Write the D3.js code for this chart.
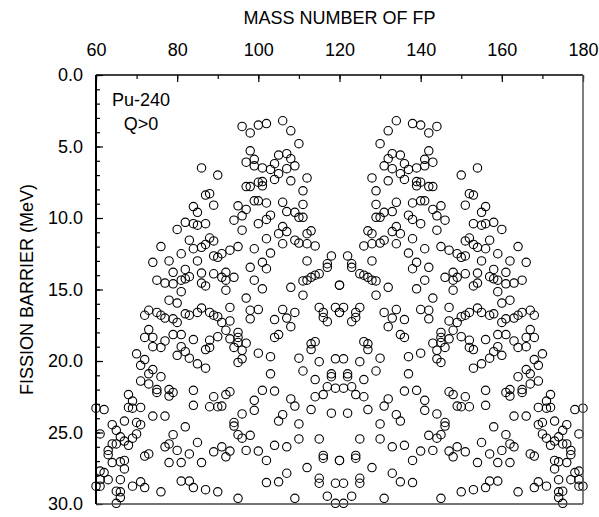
<!DOCTYPE html>
<html>
<head>
<meta charset="utf-8">
<script src="https://cdn.jsdelivr.net/npm/d3@7"></script>
<style>
  body { margin: 0; background: #fff; }
  svg { display: block; font-family: "Liberation Sans", Arial, sans-serif; }
</style>
</head>
<body>
<script>
// light fragment mass and fission barrier (MeV) for Pu-240 splits with Q>0,
// read off the left half of the picture; each split is drawn for both fragments
const lightMass = [
  86, 90, 88, 87, 89, 84, 85, 82, 84, 85, 87, 80, 83, 88, 89, 87,
  96, 98, 100, 102, 106, 108, 110,
  98, 97, 99, 99, 101, 103, 104, 105, 107, 108, 109, 107, 105, 104, 108, 112, 111, 97, 98, 100, 101, 101,
  95, 97, 99, 100, 102, 106, 111, 107, 109, 110, 111, 103, 102, 100, 96, 94, 96, 106, 107, 105, 112, 113,
  84, 86, 76, 81, 74, 78, 85, 89, 79, 82, 86, 89,
  75, 77, 79, 81, 82, 83, 86, 87, 81, 78, 80,
  73, 72, 75, 76, 77, 79, 80, 82, 83, 85, 86, 88, 89,
  73, 72, 74, 77, 79, 81, 84, 88, 87, 74, 76, 81, 80, 82, 83, 85, 87, 70, 72, 71, 74, 76,
  73, 71, 73, 75, 75, 78, 79, 78, 84, 68, 69, 68, 69, 71, 60, 62, 84, 89, 88,
  74, 77, 64, 65, 67, 70, 71, 82, 61, 66, 70, 79, 69, 67, 68, 64, 65, 63, 63, 77, 78, 80, 83, 85, 89, 72, 73,
  64, 66, 67, 67, 78, 81, 86, 61, 62, 63, 61, 60, 61, 66, 65, 66, 66, 65, 69, 71, 72, 76, 81, 83, 84, 87,
  102, 106, 109, 110, 112, 114,
  91, 90, 93, 95, 99, 103, 101, 102, 98, 112, 118, 117, 117, 115, 114, 113, 112, 111,
  91, 92, 92, 94, 92, 99, 101, 108, 111, 120, 97, 93, 98, 100, 98, 106, 109, 107, 104, 108,
  115, 116, 116, 117, 119, 120,
  90, 91, 93, 92, 93, 95, 95, 95, 90, 88, 94, 96, 97, 96, 95, 100, 103, 104, 105, 110, 113, 114, 113, 115, 119,
  103, 111, 118,
  114, 118, 117, 119, 116, 114, 92, 93, 90, 91, 101, 104, 99, 99, 96, 108, 109, 106, 105, 110, 113, 118,
  94, 94, 95, 96, 98, 110, 115, 104, 107, 91, 92, 93, 97, 100, 102, 116, 116, 120, 112, 107, 105, 102, 115, 115, 119,
  90, 95, 109, 117, 119
];
const barrier = [
  6.5, 7.0, 8.3, 8.4, 9.1, 9.2, 9.6, 10.3, 10.4, 10.5, 10.4, 10.8, 11.55, 11.4, 11.6, 11.85,
  3.6, 4.05, 3.5, 3.4, 3.2, 3.9, 4.8,
  5.3, 6.1, 5.9, 6.35, 6.5, 6.6, 6.2, 5.6, 5.5, 5.85, 6.35, 6.55, 6.9, 7.3, 7.4, 7.2, 8.1, 7.8, 7.8, 7.5, 7.45, 7.75,
  9.15, 9.4, 8.8, 8.8, 8.95, 8.9, 9.05, 9.55, 9.6, 9.95, 9.95, 9.8, 10.1, 10.4, 9.85, 10.15, 10.85, 10.6, 10.95, 11.1, 11.1, 10.9,
  12.15, 12.05, 12.0, 12.5, 13.1, 13.0, 13.0, 12.65, 13.8, 13.6, 13.85, 13.9,
  14.35, 14.55, 14.6, 14.35, 14.25, 14.1, 14.55, 14.75, 15.15, 15.75, 15.95,
  16.45, 16.8, 16.6, 16.8, 17.0, 17.05, 17.3, 16.7, 16.8, 16.6, 16.3, 16.6, 16.8,
  17.8, 18.35, 18.35, 18.6, 18.15, 18.15, 18.5, 18.55, 19.2, 19.0, 19.05, 19.0, 19.6, 19.35, 19.8, 20.2, 20.5, 19.5, 19.9, 20.3, 20.6, 21.1,
  20.9, 21.4, 21.6, 22.0, 22.2, 22.0, 22.2, 22.45, 22.05, 22.35, 22.8, 23.25, 23.3, 23.25, 23.3, 23.4, 23.1, 22.5, 23.2,
  23.85, 23.85, 24.45, 24.85, 24.2, 24.3, 24.45, 24.6, 25.1, 25.3, 25.1, 25.15, 25.4, 25.6, 25.9, 25.8, 25.8, 26.25, 26.55, 26.0, 25.8, 26.25, 26.5, 25.7, 26.35, 26.65, 26.5,
  27.1, 27.05, 26.95, 27.55, 27.1, 27.1, 27.1, 27.7, 27.8, 28.3, 28.3, 28.75, 28.75, 28.3, 29.1, 29.15, 29.55, 29.95, 28.75, 28.45, 28.85, 29.15, 28.4, 28.4, 28.85, 29.0,
  11.45, 11.8, 11.55, 11.75, 11.8, 11.95,
  12.5, 12.75, 12.25, 12.0, 12.15, 12.45, 13.1, 13.55, 13.45, 13.0, 12.65, 13.2, 13.45, 13.9, 14.0, 14.15, 14.35, 14.4,
  14.15, 13.8, 14.35, 14.15, 15.05, 14.35, 14.95, 14.85, 15.4, 14.7, 15.6, 16.25, 16.45, 16.4, 17.05, 16.4, 16.6, 17.0, 17.1, 17.6,
  16.25, 16.6, 16.95, 17.25, 16.25, 16.6,
  16.9, 17.3, 17.2, 17.85, 18.45, 18.0, 18.35, 18.7, 18.3, 19.05, 19.05, 19.25, 18.75, 19.85, 20.1, 19.45, 19.7, 18.35, 18.15, 19.8, 19.2, 18.65, 18.8, 20.05, 19.85,
  20.9, 20.7, 20.9,
  21.3, 21.1, 21.8, 21.9, 22.35, 22.5, 22.35, 22.15, 23.2, 23.15, 22.05, 22.1, 22.75, 23.45, 23.7, 22.65, 23.15, 23.75, 24.2, 24.4, 23.4, 23.65,
  24.3, 24.55, 25.15, 25.4, 25.2, 25.45, 25.45, 25.9, 26.0, 26.0, 26.7, 26.3, 26.25, 26.3, 26.95, 26.6, 26.8, 26.95, 27.45, 27.85, 28.45, 28.5, 28.2, 28.55, 28.55,
  29.15, 29.6, 29.6, 29.45, 29.95
];
const compoundMass = 240;
const xTicks = [60, 80, 100, 120, 140, 160, 180];
const yTicks = [0, 5, 10, 15, 20, 25, 30];

const W = 599, H = 517;
const m = { left: 96, right: 16, top: 75, bottom: 13 };
const fontSize = '18px';

const svg = d3.select('body').append('svg')
  .attr('width', W)
  .attr('height', H);

const x = d3.scaleLinear().domain([60, 180]).range([m.left, W - m.right]);
const y = d3.scaleLinear().domain([0, 30]).range([m.top, H - m.bottom]);

// both fragments of every split
let points = [];
lightMass.forEach((a, i) => {
  points.push([a, barrier[i]]);
  points.push([compoundMass - a, barrier[i]]);
});

svg.append('g')
  .selectAll('circle')
  .data(points)
  .enter()
  .append('circle')
  .attr('cx', d => x(d[0]))
  .attr('cy', d => y(d[1]))
  .attr('r', 4.2)
  .style('fill', 'none')
  .style('stroke', '#000')
  .style('stroke-width', 1.1);

// top axis, minor then major
svg.append('g')
  .attr('transform', `translate(0,${m.top})`)
  .call(d3.axisTop(x).tickValues(d3.range(60, 181, 10)).tickSizeInner(-4).tickSizeOuter(0).tickFormat(''))
  .call(g => g.select('.domain').remove());

svg.append('g')
  .attr('transform', `translate(0,${m.top})`)
  .call(d3.axisTop(x).tickValues(xTicks).tickSizeInner(-7).tickSizeOuter(0).tickPadding(19))
  .call(g => g.select('.domain').remove());

// left axis
svg.append('g')
  .attr('transform', `translate(${m.left},0)`)
  .call(d3.axisLeft(y).tickValues(d3.range(0, 31, 1)).tickSizeInner(-4).tickSizeOuter(0).tickFormat(''))
  .call(g => g.select('.domain').remove());

svg.append('g')
  .attr('transform', `translate(${m.left},0)`)
  .call(d3.axisLeft(y).tickValues(yTicks).tickSizeInner(-7).tickSizeOuter(0).tickPadding(13).tickFormat(d3.format('.1f')))
  .call(g => g.select('.domain').remove());

svg.selectAll('.tick line').style('stroke', '#000').style('stroke-width', 1.2);
svg.selectAll('.tick text').style('font-size', fontSize).style('fill', '#000')
  .style('font-family', '"Liberation Sans", Arial, sans-serif');

// frame
const x0 = x(60), x1 = x(180), y0 = y(0), y1 = y(30);
svg.append('line').attr('x1', x0).attr('x2', x1).attr('y1', y0).attr('y2', y0)
  .style('stroke', '#000').style('stroke-width', 1.5);
svg.append('line').attr('x1', x0).attr('x2', x1).attr('y1', y1).attr('y2', y1)
  .style('stroke', '#444').style('stroke-width', 1.5);
svg.append('line').attr('x1', x1).attr('x2', x1).attr('y1', y0).attr('y2', y1)
  .style('stroke', '#555').style('stroke-width', 1.5);
svg.append('line').attr('x1', x0).attr('x2', x0).attr('y1', y0).attr('y2', y1)
  .style('stroke', '#000').style('stroke-width', 2);

// titles
svg.append('text')
  .attr('x', (x0 + x1) / 2)
  .attr('y', 24)
  .attr('text-anchor', 'middle')
  .style('font-size', fontSize)
  .text('MASS NUMBER OF FP');

svg.append('text')
  .attr('transform', `translate(33,${(y0 + y1) / 2}) rotate(-90)`)
  .attr('text-anchor', 'middle')
  .style('font-size', fontSize)
  .text('FISSION BARRIER (MeV)');

svg.append('text')
  .attr('x', x0 + 45)
  .attr('y', 106)
  .attr('text-anchor', 'middle')
  .style('font-size', fontSize)
  .text('Pu-240');

svg.append('text')
  .attr('x', x0 + 45)
  .attr('y', 130)
  .attr('text-anchor', 'middle')
  .style('font-size', fontSize)
  .text('Q>0');
</script>
</body>
</html>
